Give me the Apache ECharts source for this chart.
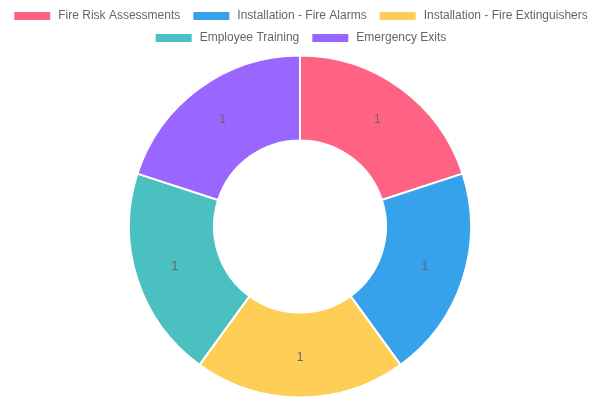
<!DOCTYPE html>
<html>
<head>
<meta charset="utf-8">
<script src="https://cdn.jsdelivr.net/npm/echarts@6/dist/echarts.min.js"></script>
<style>
  html, body { margin: 0; padding: 0; background: #fff; }
  #chart { width: 600px; height: 400px; }
</style>
</head>
<body>
<div id="chart"></div>
<script>
// 数据
const categories = [
  'Fire Risk Assessments',
  'Installation - Fire Alarms',
  'Installation - Fire Extinguishers',
  'Employee Training',
  'Emergency Exits'
]
const values = [1, 1, 1, 1, 1]
const colors = ['#FF6384', '#36A2EB', '#FFCE56', '#4BC0C0', '#9966FF']

let chart = echarts.init(document.getElementById('chart'))

const legendBase = {
  orient: 'horizontal',
  left: 'center',
  padding: 0,
  itemWidth: 38,
  itemHeight: 10,
  itemGap: 11,
  icon: 'rect',
  textStyle: {
    color: '#666',
    fontSize: 12,
    padding: [0, 0, 0, 2],
    fontFamily: 'Liberation Sans, Arial, sans-serif'
  }
}

chart.setOption({
  color: colors,
  legend: [
    Object.assign({}, legendBase, { top: 10, data: categories.slice(0, 3) }),
    Object.assign({}, legendBase, { top: 32, data: categories.slice(3) })
  ],
  series: [
    {
      type: 'pie',
      center: [300, 226.5],
      radius: [86, 171],
      startAngle: 90,
      clockwise: true,
      silent: true,
      itemStyle: {
        borderColor: '#fff',
        borderWidth: 2
      },
      label: {
        show: true,
        position: 'inside',
        formatter: '{c}',
        color: '#666',
        fontSize: 12,
        fontFamily: 'Liberation Sans, Arial, sans-serif'
      },
      labelLine: { show: false },
      data: categories.map((name, i) => ({ name: name, value: values[i] }))
    }
  ]
})
</script>
</body>
</html>
